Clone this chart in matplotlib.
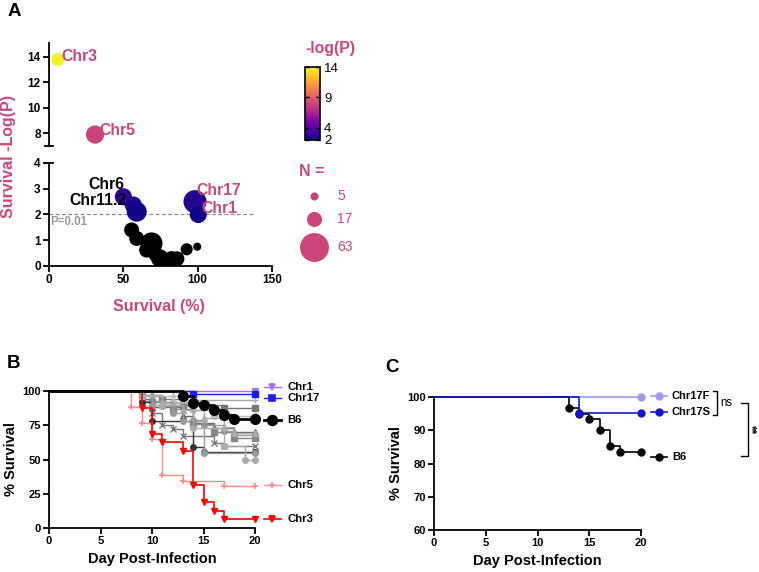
import matplotlib.pyplot as plt
from matplotlib.colors import Normalize
from matplotlib.cm import ScalarMappable
import matplotlib as mpl

plt.rcParams["font.family"] = ["Liberation Sans", "DejaVu Sans"]
plt.rcParams["font.weight"] = "bold"
plt.rcParams["axes.labelweight"] = "bold"

PINK = "#cc4778"
W, H = 759, 572

# ---- panel A data: mean survival (%), -log10(P), group size ----
a_survival = [6, 31, 50, 56.7, 59, 98.2, 100.4, 55.6, 59, 65.7, 69, 72, 74.6, 78, 82.5, 86, 92.6, 99.7]
a_neglogp = [13.8, 7.9, 2.69, 2.37, 2.11, 2.5, 2.0, 1.40, 1.07, 0.62, 0.88, 0.45, 0.30, 0.20, 0.23, 0.28, 0.65, 0.75]
a_n = [13, 25, 22, 22, 30, 40, 22, 17, 17, 17, 36, 17, 24, 20, 24, 17, 11, 5]
legend_n = [5, 17, 63]
cbar_ticks = [2, 4, 9, 14]

# ---- panel B data: event days and survival after each event ----
chr1_days, chr1_surv = [], []
chr17_days, chr17_surv = [14], [97.6]
b6_days = [13, 14, 15, 16, 17, 18]
b6_surv = [96.4, 91.2, 89.5, 86.4, 82.2, 79.3]
chr5_days = [8, 9, 10, 11, 13, 17]
chr5_surv = [88, 77, 65, 38.5, 34.6, 30.8]
chr3_days = [9, 10, 11, 13, 14, 15, 16, 17]
chr3_surv = [87.5, 68.75, 62.5, 56.25, 31.25, 18.75, 12.5, 6.25]
grey_days = [
    [12, 14],
    [9, 11, 13, 17],
    [10, 12, 14, 16],
    [9, 10, 13, 14, 16, 18],
    [9, 11, 14, 15, 17, 18],
    [10, 12, 14, 16, 18],
    [10, 11, 12, 13, 16, 17],
    [9, 10, 14, 15],
    [10, 12, 13, 15],
    [9, 11, 14, 17, 19],
    [9, 11, 13, 15, 17, 18],
]
grey_surv = [
    [96.7, 93.3],
    [97, 94, 90, 87.5],
    [96, 92, 86, 82],
    [94, 88, 82, 77, 73, 70],
    [93, 89, 79, 75, 71, 68],
    [92, 87, 76, 70, 65.5],
    [84, 75, 72, 67, 62, 60],
    [92, 78, 59, 55.5],
    [90, 84, 78, 55],
    [97, 91, 73, 60, 50],
    [96, 90, 86, 80, 74, 69],
]
grey_colors = ["#aaaaaa", "#777777", "#bbbbbb", "#666666", "#999999", "#888888",
               "#777777", "#333333", "#999999", "#aaaaaa", "#aaaaaa"]
grey_markers = ["+", "s", "o", "^", "o", "s", "x", "o", "o", "o", "^"]

# ---- panel C data ----
c17f_days, c17f_surv = [], []
c17s_days, c17s_surv = [14], [95.3]
cb6_days = [13, 14, 15, 16, 17, 18]
cb6_surv = [96.7, 95.0, 93.4, 90.2, 85.2, 83.6]

END_DAY = 20

fig = plt.figure(figsize=(W / 100, H / 100), dpi=100)


def px_axes(l, t, r, b):
    return fig.add_axes([l / W, 1 - b / H, (r - l) / W, (b - t) / H])


def prism(ax, size=8):
    for s in ["top", "right"]:
        ax.spines[s].set_visible(False)
    for s in ["left", "bottom"]:
        ax.spines[s].set_linewidth(1.3)
    ax.tick_params(width=1.3, length=4, labelsize=size, pad=2)


def km(ax, days, surv, color, marker, lw=1.0, ms=4, mew=1.0):
    last = surv[-1] if surv else 100
    x = [0] + days + [END_DAY]
    y = [100] + surv + [last]
    ax.step(x, y, where="post", color=color, lw=lw, clip_on=False)
    ax.plot(days + [END_DAY], surv + [last], ls="none", marker=marker, color=color,
            ms=ms, mew=mew, clip_on=False)


# ================= Panel A =================
cmap = mpl.colormaps["plasma"].copy()
cmap.set_under("black")
norm = Normalize(vmin=2, vmax=14)
S_PER_N = 6.9

ax_up = px_axes(49, 43, 272, 146)
ax_lo = px_axes(49, 163, 272, 266)
for ax in (ax_up, ax_lo):
    prism(ax, 8.5)
    ax.scatter(a_survival, a_neglogp, s=[S_PER_N * n for n in a_n], c=a_neglogp,
               cmap=cmap, norm=norm, linewidths=0, zorder=3)
    ax.set_xlim(0, 150)
ax_up.set_ylim(7, 15.1)
ax_up.set_yticks([8, 10, 12, 14])
ax_up.spines["bottom"].set_visible(False)
ax_up.set_xticks([])
ax_up.plot([-0.02, 0.02], [0, 0], transform=ax_up.transAxes, color="k", lw=1.3, clip_on=False)
ax_lo.set_ylim(0, 4)
ax_lo.set_yticks([0, 1, 2, 3, 4])
ax_lo.set_xticks([0, 50, 100, 150])
ax_lo.plot([-0.02, 0.02], [1, 1], transform=ax_lo.transAxes, color="k", lw=1.3, clip_on=False)

ax_lo.plot([0, 137], [2, 2], ls=(0, (3, 2)), color="#888888", lw=0.9, zorder=2)
ax_lo.text(1, 1.72, "P=0.01", color="#9a9a9a", fontsize=8.3, va="center", ha="left")

ax_up.text(8, 14.0, "Chr3", color=PINK, fontsize=11.3, va="center")
ax_up.text(34, 8.2, "Chr5", color=PINK, fontsize=11.3, va="center")
ax_lo.text(51, 3.18, "Chr6", color="black", fontsize=11.3, va="center", ha="right")
ax_lo.text(52, 2.56, "Chr11.2", color="black", fontsize=11.3, va="center", ha="right")
ax_lo.text(99, 2.92, "Chr17", color=PINK, fontsize=11.3, va="center")
ax_lo.text(102.5, 2.25, "Chr1", color=PINK, fontsize=11.3, va="center")

fig.text(8.5 / W, 1 - 157 / H, "Survival -Log(P)", rotation=90, color=PINK,
         fontsize=11.5, ha="center", va="center")
fig.text(159 / W, 1 - 307 / H, "Survival (%)", color=PINK, fontsize=11.5,
         ha="center", va="center")

cax = px_axes(305, 67, 320, 140)
cb = fig.colorbar(ScalarMappable(norm=norm, cmap=mpl.colormaps["plasma"]), cax=cax)
cb.set_ticks(cbar_ticks)
cb.outline.set_linewidth(1.2)
cax.tick_params(direction="in", length=3, width=1, left=True, right=True,
                labelsize=9.5, pad=3)
for t in cax.get_yticklabels():
    t.set_fontweight("normal")
fig.text(330 / W, 1 - 49 / H, "-log(P)", color=PINK, fontsize=11.4, ha="center", va="center")

# overlay in pixel coordinates for legends / brackets
ov = fig.add_axes([0, 0, 1, 1])
ov.set_xlim(0, W)
ov.set_ylim(H, 0)
ov.axis("off")

ov.text(299, 171, "N =", color=PINK, fontsize=11.5, va="center", ha="left")
for n, y in zip(legend_n, [196, 219, 247]):
    ov.scatter([314], [y], s=S_PER_N * n, color=PINK, linewidths=0)
    ov.text(337, y, str(n), color=PINK, fontsize=10, fontweight="normal", va="center")

# ================= Panel B =================
axB = px_axes(49, 391, 255, 528)
prism(axB, 8)
for d, s, c, m in zip(grey_days, grey_surv, grey_colors, grey_markers):
    km(axB, d, s, c, m, lw=1.0, ms=4)
km(axB, chr5_days, chr5_surv, "#ff8a8a", "+", lw=1.0, ms=4, mew=1.2)
km(axB, chr3_days, chr3_surv, "#ff0000", "v", lw=1.2, ms=4)
km(axB, chr1_days, chr1_surv, "#b070e0", "v", lw=1.0, ms=4)
km(axB, chr17_days, chr17_surv, "#1a1aff", "s", lw=1.0, ms=4)
km(axB, b6_days, b6_surv, "black", "o", lw=2.0, ms=7)
axB.set_xlim(0, 20)
axB.set_ylim(0, 100)
axB.set_xticks([0, 5, 10, 15, 20])
axB.set_yticks([0, 25, 50, 75, 100])
axB.set_xlabel("Day Post-Infection", fontsize=10.5, labelpad=4)
axB.set_ylabel("% Survival", fontsize=10.5, labelpad=3)

b_leg = [("Chr1", "#b070e0", "v", 387, 1.0, 4), ("Chr17", "#1a1aff", "s", 398, 1.0, 4),
         ("B6", "black", "o", 420, 2.0, 7), ("Chr5", "#ff8a8a", "+", 485, 1.0, 4),
         ("Chr3", "#ff0000", "v", 519, 1.2, 4)]
for lab, col, mk, y, lw, ms in b_leg:
    ov.plot([264, 281], [y, y], color=col, lw=lw)
    ov.plot([272], [y], marker=mk, color=col, ms=ms, mew=1.2)
    ov.text(287, y, lab, fontsize=8.2, va="center")

# ================= Panel C =================
axC = px_axes(434, 397, 641, 530)
prism(axC, 8)
km(axC, c17f_days, c17f_surv, "#9b9bf0", "o", lw=1.2, ms=5)
km(axC, cb6_days, cb6_surv, "black", "o", lw=1.2, ms=5)
km(axC, c17s_days, c17s_surv, "#1515d0", "o", lw=1.2, ms=5)
axC.set_xlim(0, 20)
axC.set_ylim(60, 100)
axC.set_xticks([0, 5, 10, 15, 20])
axC.set_yticks([60, 70, 80, 90, 100])
axC.set_xlabel("Day Post-Infection", fontsize=10.5, labelpad=4)
axC.set_ylabel("% Survival", fontsize=10.5, labelpad=3)

c_leg = [("Chr17F", "#9b9bf0", 396), ("Chr17S", "#1515d0", 412), ("B6", "black", 457)]
for lab, col, y in c_leg:
    ov.plot([651, 667], [y, y], color=col, lw=1.2)
    ov.plot([659], [y], marker="o", color=col, ms=5)
    ov.text(672, y, lab, fontsize=8, va="center")

ov.plot([713, 717, 717, 713], [391, 391, 415, 415], color="black", lw=1.0)
ov.text(720, 403, "ns", fontsize=8.3, fontweight="normal", va="center", ha="left")
ov.plot([741, 748, 748, 741], [403, 403, 456, 456], color="black", lw=1.0)
ov.text(751, 430, "**", fontsize=8.5, rotation=270, va="center", ha="center")

# panel letters
fig.text(8 / W, 1 - 11 / H, "A", fontsize=13.5, va="center", ha="left")
fig.text(7 / W, 1 - 364 / H, "B", fontsize=13.5, va="center", ha="left")
fig.text(385 / W, 1 - 368 / H, "C", fontsize=13.5, va="center", ha="left")

fig.savefig("out.png", dpi=100)
